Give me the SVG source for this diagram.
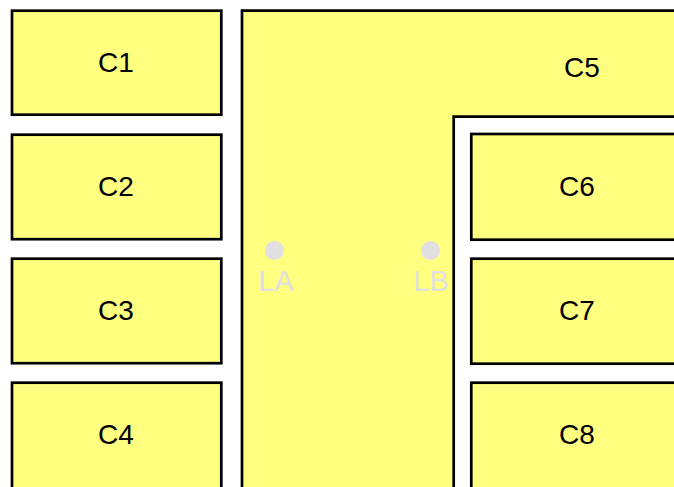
<svg xmlns="http://www.w3.org/2000/svg" width="674" height="487" viewBox="0 0 674 487">
<style>
.n{fill:#ffff80;stroke:#000;stroke-width:2.7}
.t{font-family:"Liberation Sans",Arial,sans-serif;font-size:28px;fill:#000;text-anchor:middle}
.l{font-family:"Liberation Sans",Arial,sans-serif;font-size:29px;fill:#e0e0e0;text-anchor:middle}
.d{fill:#e0e0e0}
</style>
<rect width="674" height="487" fill="#fff"/>
<g id="C5"><path class="n" d="M242,10.7 H690 V116.7 H453.7 V500 H242 Z"/><text class="t" x="582" y="77">C5</text></g>
<g id="C1"><rect class="n" x="12" y="10.7" width="209.3" height="104"/><text class="t" x="116" y="71.5">C1</text></g>
<g id="C2"><rect class="n" x="12" y="134.7" width="209.3" height="104.5"/><text class="t" x="116" y="196">C2</text></g>
<g id="C3"><rect class="n" x="12" y="258.7" width="209.3" height="104.5"/><text class="t" x="116" y="320">C3</text></g>
<g id="C4"><rect class="n" x="12" y="382.7" width="209.3" height="130"/><text class="t" x="116" y="444">C4</text></g>
<g id="C6"><rect class="n" x="471.3" y="134" width="230" height="105.7"/><text class="t" x="577" y="196">C6</text></g>
<g id="C7"><rect class="n" x="471.3" y="258.7" width="230" height="105"/><text class="t" x="577" y="320">C7</text></g>
<g id="C8"><rect class="n" x="471.3" y="382.7" width="230" height="130"/><text class="t" x="577" y="444">C8</text></g>
<g id="LA"><circle class="d" cx="274.5" cy="250.5" r="9.5"/><text class="l" x="276" y="291">LA</text></g>
<g id="LB"><circle class="d" cx="430.5" cy="250.5" r="9.5"/><text class="l" x="431" y="291">LB</text></g>
<g id="connectors"></g>
</svg>
